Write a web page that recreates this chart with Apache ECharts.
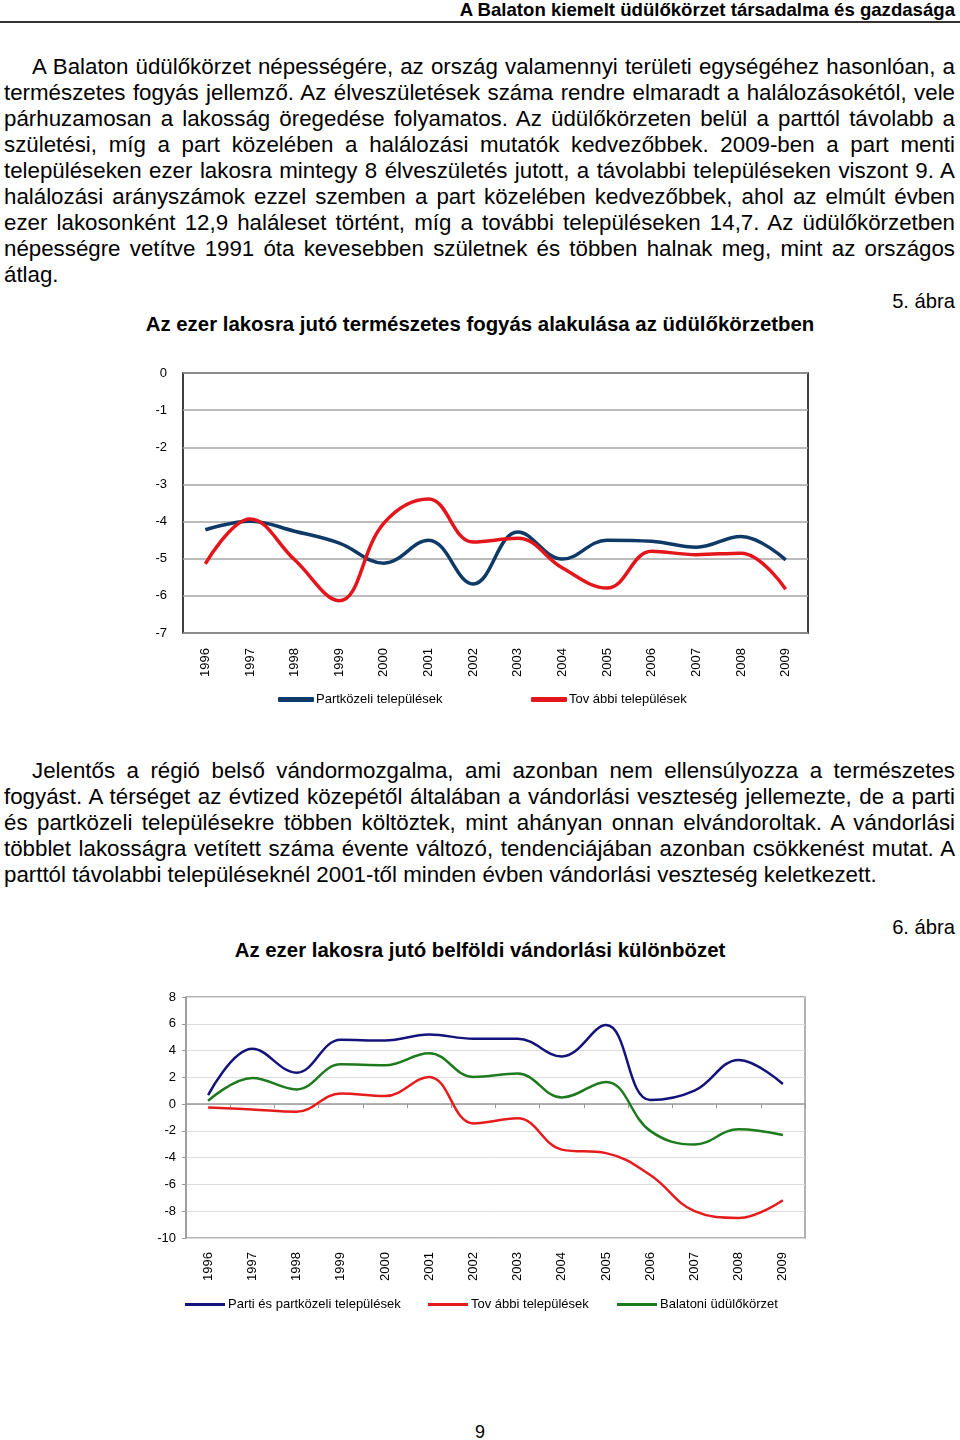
<!DOCTYPE html>
<html>
<head>
<meta charset="utf-8">
<script src="https://cdn.jsdelivr.net/npm/echarts@6/dist/echarts.min.js"></script>
<style>
  html, body { margin:0; padding:0; background:#fff; }
  body { width:960px; height:1440px; position:relative; overflow:hidden; font-family:"Liberation Sans", Arial, sans-serif; color:#000; }
  .abs { position:absolute; white-space:nowrap; }
  .line { position:absolute; left:4px; width:951px; height:26px; line-height:26px; font-size:22.3px; white-space:nowrap; }
  .just { text-align:justify; text-align-last:justify; }
  .hdr { right:5px; top:0px; font-size:18.6px; font-weight:bold; line-height:20px; }
  .rule { position:absolute; left:0; top:21px; width:960px; height:2px; background:#333; }
  .fig { right:5px; font-size:20.2px; line-height:24px; }
  .ttl { left:0; width:960px; text-align:center; font-size:20.4px; font-weight:bold; line-height:24px; }
  #c1 { position:absolute; left:140px; top:355px; width:700px; height:370px; }
  #c2 { position:absolute; left:140px; top:975px; width:700px; height:350px; }
</style>
</head>
<body>
<div class="abs hdr">A Balaton kiemelt üdülőkörzet társadalma és gazdasága</div>
<div class="rule"></div>

<div id="p1"></div>
<div class="abs fig" style="top:289px;">5. ábra</div>
<div class="abs ttl" style="top:312px;">Az ezer lakosra jutó természetes fogyás alakulása az üdülőkörzetben</div>
<div id="c1"></div>

<div id="p2"></div>
<div class="abs fig" style="top:915px;">6. ábra</div>
<div class="abs ttl" style="top:938px;">Az ezer lakosra jutó belföldi vándorlási különbözet</div>
<div id="c2"></div>

<div class="abs" style="left:0;width:960px;text-align:center;top:1421px;font-size:18px;line-height:22px;">9</div>

<script>
// ---- Text lines ----
const para1Lines = [
  "A Balaton üdülőkörzet népességére, az ország valamennyi területi egységéhez hasonlóan, a",
  "természetes fogyás jellemző. Az élveszületések száma rendre elmaradt a halálozásokétól, vele",
  "párhuzamosan a lakosság öregedése folyamatos. Az üdülőkörzeten belül a parttól távolabb a",
  "születési, míg a part közelében a halálozási mutatók kedvezőbbek. 2009-ben a part menti",
  "településeken ezer lakosra mintegy 8 élveszületés jutott, a távolabbi településeken viszont 9. A",
  "halálozási arányszámok ezzel szemben a part közelében kedvezőbbek, ahol az elmúlt évben",
  "ezer lakosonként 12,9 haláleset történt, míg a további településeken 14,7. Az üdülőkörzetben",
  "népességre vetítve 1991 óta kevesebben születnek és többen halnak meg, mint az országos",
  "átlag."
];
const para2Lines = [
  "Jelentős a régió belső vándormozgalma, ami azonban nem ellensúlyozza a természetes",
  "fogyást. A térséget az évtized közepétől általában a vándorlási veszteség jellemezte, de a parti",
  "és partközeli településekre többen költöztek, mint ahányan onnan elvándoroltak. A vándorlási",
  "többlet lakosságra vetített száma évente változó, tendenciájában azonban csökkenést mutat. A",
  "parttól távolabbi településeknél 2001-től minden évben vándorlási veszteség keletkezett."
];

function placeLines(containerId, lines, firstTop) {
  const c = document.getElementById(containerId);
  lines.forEach((t, i) => {
    const d = document.createElement('div');
    d.className = 'line' + (i < lines.length - 1 ? ' just' : '');
    d.style.top = (firstTop + i * 26) + 'px';
    if (i === 0) { d.style.left = '32px'; d.style.width = '923px'; }
    d.textContent = t;
    c.appendChild(d);
  });
}
placeLines('p1', para1Lines, 54);
placeLines('p2', para2Lines, 758);

// ---- Chart data ----
const years = ['1996','1997','1998','1999','2000','2001','2002','2003','2004','2005','2006','2007','2008','2009'];

const fig5Names = ['Partközeli települések', 'Tov ábbi települések'];
const fig5Partkozeli = [-4.22, -3.99, -4.26, -4.58, -5.12, -4.50, -5.68, -4.28, -5.01, -4.50, -4.53, -4.69, -4.40, -5.03];
const fig5Tovabbi    = [-5.14, -3.93, -5.03, -6.13, -4.04, -3.39, -4.55, -4.45, -5.25, -5.79, -4.80, -4.89, -4.85, -5.82];
const fig5YTicks = { min: -7, max: 0, interval: 1 };

const fig6Names = ['Parti és partközeli települések', 'Tov ábbi települések', 'Balatoni üdülőkörzet'];
const fig6Parti    = [0.67, 4.13, 2.35, 4.80, 4.75, 5.20, 4.88, 4.88, 3.56, 5.90, 0.30, 1.00, 3.30, 1.50];
const fig6Tovabbi  = [-0.25, -0.40, -0.57, 0.80, 0.60, 2.03, -1.44, -1.06, -3.40, -3.66, -5.30, -8.00, -8.50, -7.18];
const fig6Balatoni = [0.25, 1.95, 1.10, 2.97, 2.90, 3.80, 2.03, 2.28, 0.50, 1.66, -2.00, -3.02, -1.88, -2.30];
const fig6YTicks = { min: -10, max: 8, interval: 2 };

const chartFont = '"Liberation Sans", Arial, sans-serif';

// ---- Figure 5 ----
const c1 = echarts.init(document.getElementById('c1'), null, { renderer: 'canvas' });
const blue5 = '#0f3a68', red5 = '#e3161c';
const leg5 = (name, left) => ({ data: [name], left: left, top: 333, icon: 'roundRect', itemWidth: 36, itemHeight: 5, itemGap: 0,
  textStyle: { fontFamily: chartFont, fontSize: 13, color: '#000', padding: [0,0,0,-3] } });
c1.setOption({
  animation: false,
  grid: { left: 43, top: 18, width: 625, height: 260, show: true, borderColor: '#000', borderWidth: 1.5, backgroundColor: 'transparent' },
  legend: [ leg5(fig5Names[0], 133), leg5(fig5Names[1], 386) ],
  xAxis: {
    type: 'category', data: years, boundaryGap: true,
    axisLine: { show: false }, axisTick: { show: false },
    axisLabel: { rotate: 90, margin: 15, fontFamily: chartFont, fontSize: 13, color: '#000' }
  },
  yAxis: {
    type: 'value', min: fig5YTicks.min, max: fig5YTicks.max, interval: fig5YTicks.interval,
    axisLine: { show: false }, axisTick: { show: false },
    splitLine: { show: true, lineStyle: { color: '#a6a6a6', width: 1.5 } },
    axisLabel: { margin: 16, fontFamily: chartFont, fontSize: 13, color: '#000' }
  },
  series: [
    { name: fig5Names[0], type: 'line', data: fig5Partkozeli, smooth: 0.4, showSymbol: false,
      lineStyle: { color: blue5, width: 3.5 }, itemStyle: { color: blue5 } },
    { name: fig5Names[1], type: 'line', data: fig5Tovabbi, smooth: 0.4, showSymbol: false,
      lineStyle: { color: red5, width: 3.5 }, itemStyle: { color: red5 } }
  ]
});

// ---- Figure 6 ----
const c2 = echarts.init(document.getElementById('c2'), null, { renderer: 'canvas' });
const blue6 = '#13137a', red6 = '#e61c1c', green6 = '#1d7a1d';
const leg6 = (name, left) => ({ data: [name], left: left, top: 318, icon: 'rect', itemWidth: 40, itemHeight: 3, itemGap: 0,
  textStyle: { fontFamily: chartFont, fontSize: 13, color: '#000', padding: [0,0,0,-2] } });
c2.setOption({
  animation: false,
  grid: { left: 46, top: 22, width: 619, height: 241, show: true, borderColor: '#999', borderWidth: 1.5, backgroundColor: 'transparent' },
  legend: [ leg6(fig6Names[0], 40), leg6(fig6Names[1], 283), leg6(fig6Names[2], 472) ],
  xAxis: [
    { type: 'category', data: years, boundaryGap: true,
      axisLine: { show: false, onZero: false }, axisTick: { show: false },
      axisLabel: { rotate: 90, margin: 14, fontFamily: chartFont, fontSize: 13, color: '#000' } },
    { type: 'category', data: years, boundaryGap: true, position: 'bottom',
      axisLine: { show: true, onZero: true, lineStyle: { color: '#999', width: 1.5 } },
      axisTick: { show: true, length: 4, lineStyle: { color: '#999' } },
      axisLabel: { show: false } }
  ],
  yAxis: {
    type: 'value', min: fig6YTicks.min, max: fig6YTicks.max, interval: fig6YTicks.interval,
    axisLine: { show: true, lineStyle: { color: '#999', width: 1.5 } },
    axisTick: { show: true, length: 4, lineStyle: { color: '#999' } },
    splitLine: { show: true, lineStyle: { color: '#dcdcdc', width: 1 } },
    axisLabel: { margin: 10, fontFamily: chartFont, fontSize: 13, color: '#000' }
  },
  series: [
    { name: fig6Names[0], type: 'line', data: fig6Parti, smooth: 0.4, showSymbol: false,
      lineStyle: { color: blue6, width: 2.5 }, itemStyle: { color: blue6 } },
    { name: fig6Names[1], type: 'line', data: fig6Tovabbi, smooth: 0.4, showSymbol: false,
      lineStyle: { color: red6, width: 2.5 }, itemStyle: { color: red6 } },
    { name: fig6Names[2], type: 'line', data: fig6Balatoni, smooth: 0.4, showSymbol: false,
      lineStyle: { color: green6, width: 2.5 }, itemStyle: { color: green6 } }
  ]
});
</script>
</body>
</html>
